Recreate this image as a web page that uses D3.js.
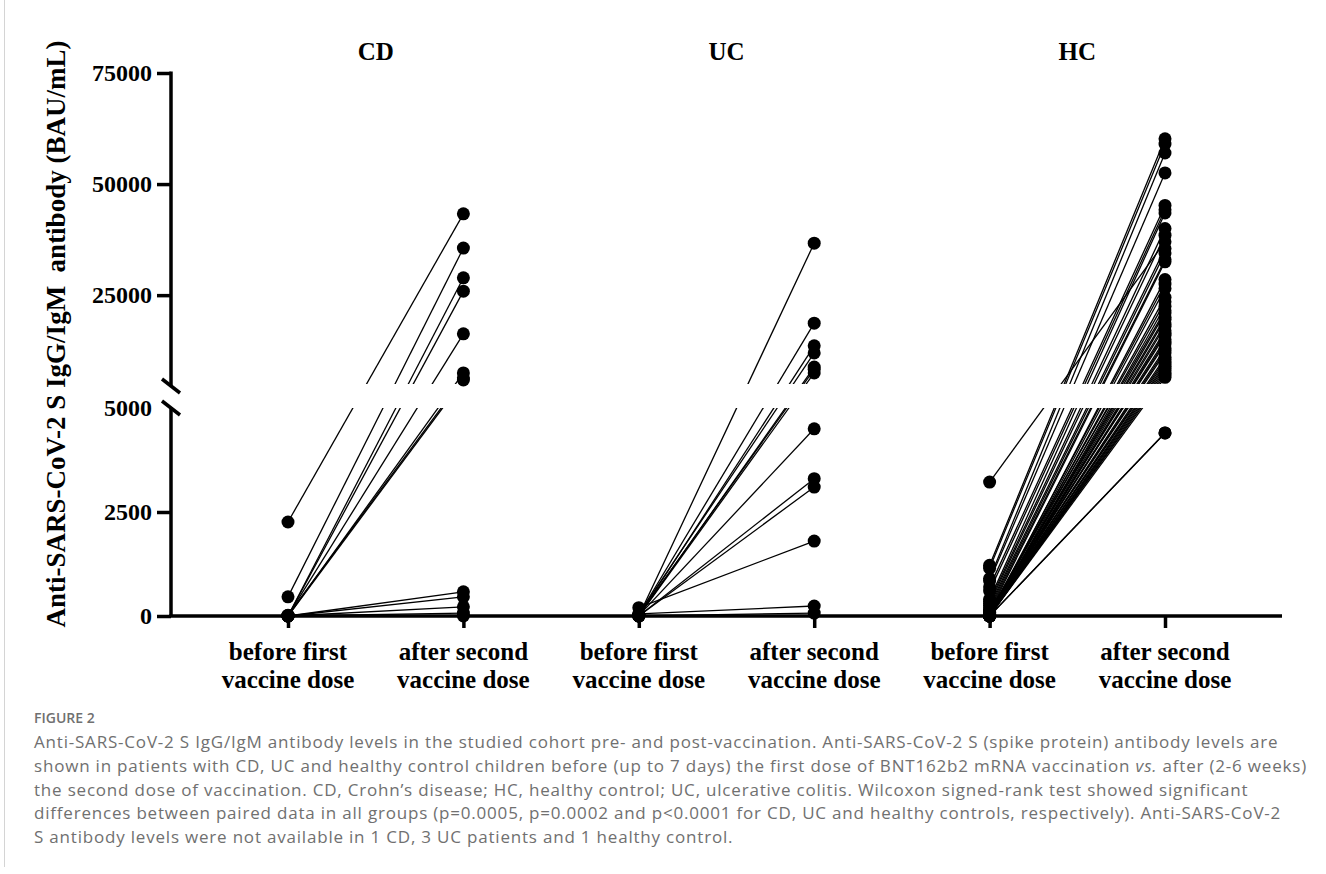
<!DOCTYPE html>
<html>
<head>
<meta charset="utf-8">
<script src="https://cdn.jsdelivr.net/npm/d3@7/dist/d3.min.js"></script>
<style>
  body { margin: 0; background: #fff; }
  .serif { font-family: "Liberation Serif", "Times New Roman", serif; font-weight: bold; }
  .caption { font-family: "Open Sans", "Noto Sans", sans-serif; fill: #707070; }
</style>
</head>
<body>
<div class="canvas"></div>
<script>
// groups and time points
const groupNames = ['CD', 'UC', 'HC'];
const timeLabels = [['before first', 'vaccine dose'], ['after second', 'vaccine dose']];

// paired values (BAU/mL), one entry per child
const cdBefore = [2260, 460, 0, 0, 10, 0, 20, 0, 0, 0, 0, 0, 0];
const cdAfter  = [43300, 35600, 28900, 25900, 16300, 7500, 6400, 5900, 580, 460, 220, 70, 0];

const ucBefore = [0, 30, 0, 50, 0, 20, 0, 10, 0, 0, 200, 50, 0];
const ucAfter  = [36700, 18700, 13600, 12000, 8800, 8300, 7500, 4500, 3300, 3100, 1800, 240, 70];

const hcBefore = [3220, 1220, 1150, 900, 850, 700, 600, 400, 350, 300, 250, 200, 150, 100,
  0, 50, 0, 20, 80, 0, 120, 0, 30, 0, 60, 0, 10, 0, 40, 0, 0, 90, 0, 0, 20, 0, 0, 50, 0, 0, 10, 0, 0, 30, 0, 0, 0];
const hcAfter  = [37000, 60200, 59000, 57000, 52500, 45200, 44200, 43500, 40000, 38500, 35500, 34500, 33000, 32500,
  28500, 27500, 26500, 24500, 23500, 22500, 21500, 21000, 20000, 19500, 18500, 18000, 17000, 16500, 16000, 15000,
  14500, 14000, 13000, 12500, 12000, 11000, 10500, 10000, 9500, 9000, 8500, 8000, 7500, 7000, 6500, 4400, 4400];

// axis ticks
const lowTicks = [0, 2500, 5000];
const highTicks = [25000, 50000, 75000];

const captionTitle = 'FIGURE 2';
const captionLines = [
  'Anti-SARS-CoV-2 S IgG/IgM antibody levels in the studied cohort pre- and post-vaccination. Anti-SARS-CoV-2 S (spike protein) antibody levels are',
  'shown in patients with CD, UC and healthy control children before (up to 7 days) the first dose of BNT162b2 mRNA vaccination vs. after (2-6 weeks)',
  'the second dose of vaccination. CD, Crohn\u2019s disease; HC, healthy control; UC, ulcerative colitis. Wilcoxon signed-rank test showed significant',
  'differences between paired data in all groups (p=0.0005, p=0.0002 and p<0.0001 for CD, UC and healthy controls, respectively). Anti-SARS-CoV-2',
  'S antibody levels were not available in 1 CD, 3 UC patients and 1 healthy control.'
];

const groups = [
  { name: groupNames[0], before: cdBefore, after: cdAfter },
  { name: groupNames[1], before: ucBefore, after: ucAfter },
  { name: groupNames[2], before: hcBefore, after: hcAfter }
];

const dims = { width: 1326, height: 874 };
const svg = d3.select('.canvas').append('svg')
  .attr('width', dims.width)
  .attr('height', dims.height);

// thin frame line on the left
svg.append('line')
  .attr('x1', 4.5).attr('x2', 4.5)
  .attr('y1', 0).attr('y2', 867)
  .attr('stroke', '#d4d4d4');

const slots = [];
groups.forEach(g => slots.push(g.name + '-0', g.name + '-1'));

const x = d3.scalePoint()
  .domain(slots)
  .range([171, 1282])
  .padding(0.667);

// broken y axis: two linear pieces
const yLow = d3.scaleLinear().domain([0, 5000]).range([616, 408]);
const yHigh = d3.scaleLinear().domain([5000, 75000]).range([384, 73]);
const y = v => v <= 5000 ? yLow(v) : yHigh(v);

// clip lines out of the gap
const clip = svg.append('clipPath').attr('id', 'gapclip');
clip.append('rect').attr('x', 0).attr('y', 0).attr('width', dims.width).attr('height', yHigh(5000));
clip.append('rect').attr('x', 0).attr('y', yLow(5000)).attr('width', dims.width).attr('height', 300);

const graph = svg.append('g');

// paired lines
groups.forEach(g => {
  const pairs = g.before.map((b, i) => ({ b: b, a: g.after[i] }));
  graph.append('g')
    .attr('clip-path', 'url(#gapclip)')
    .selectAll('line')
    .data(pairs)
    .enter().append('line')
      .attr('x1', x(g.name + '-0'))
      .attr('y1', d => y(d.b))
      .attr('x2', x(g.name + '-1'))
      .attr('y2', d => y(d.a))
      .attr('stroke', '#000')
      .attr('stroke-width', 1.3);
});

// points
groups.forEach(g => {
  [g.before, g.after].forEach((vals, k) => {
    graph.append('g').selectAll('circle')
      .data(vals)
      .enter().append('circle')
        .attr('cx', x(g.name + '-' + k))
        .attr('cy', d => y(d))
        .attr('r', 6.5)
        .attr('fill', '#000');
  });
});

// y axes
const styleAxis = sel => {
  sel.selectAll('path, line').attr('stroke', '#000').attr('stroke-width', 3.5);
  sel.selectAll('text')
    .attr('class', 'serif')
    .attr('font-size', 24)
    .attr('fill', '#000');
};

const axisHigh = d3.axisLeft(yHigh)
  .tickValues(highTicks)
  .tickSize(14).tickSizeOuter(0).tickPadding(5)
  .tickFormat(d3.format('d'));
svg.append('g')
  .attr('transform', 'translate(171,0)')
  .call(axisHigh)
  .call(styleAxis)
  .call(g => g.select('.domain').attr('d', `M0,${yHigh(5000) + 2}V${yHigh(75000) - 1.5}`));

const axisLow = d3.axisLeft(yLow)
  .tickValues(lowTicks)
  .tickSize(14).tickSizeOuter(0).tickPadding(5)
  .tickFormat(d3.format('d'));
svg.append('g')
  .attr('transform', 'translate(171,0)')
  .call(axisLow)
  .call(styleAxis)
  .call(g => g.select('.domain').attr('d', `M0,${yLow(0)}V${yLow(5000) - 1}`))
  .call(g => g.selectAll('.tick').filter(d => d === 5000).select('line').remove());

// break marks
[yHigh(5000) + 2, yLow(5000)].forEach(yy => {
  svg.append('line')
    .attr('x1', 162).attr('y1', yy - 7)
    .attr('x2', 180).attr('y2', yy + 7)
    .attr('stroke', '#000')
    .attr('stroke-width', 3.5);
});

// x axis
const xAxis = d3.axisBottom(x)
  .tickSize(12).tickSizeOuter(0)
  .tickFormat('');
svg.append('g')
  .attr('transform', `translate(0,${yLow(0)})`)
  .call(xAxis)
  .call(g => g.selectAll('path, line').attr('stroke', '#000').attr('stroke-width', 3.5))
  .call(g => g.select('.domain').attr('d', 'M169.25,0H1282'));

// x tick labels, two lines each
slots.forEach((s, i) => {
  const t = svg.append('text')
    .attr('class', 'serif')
    .attr('font-size', 25)
    .attr('text-anchor', 'middle');
  timeLabels[i % 2].forEach((line, j) => {
    t.append('tspan')
      .attr('x', x(s))
      .attr('y', 660 + j * 28)
      .text(line);
  });
});

// group titles
groups.forEach(g => {
  svg.append('text')
    .attr('class', 'serif')
    .attr('font-size', 25)
    .attr('text-anchor', 'middle')
    .attr('x', (x(g.name + '-0') + x(g.name + '-1')) / 2)
    .attr('y', 60)
    .text(g.name);
});

// y axis title
svg.append('text')
  .attr('class', 'serif')
  .attr('font-size', 27)
  .attr('text-anchor', 'middle')
  .attr('transform', 'translate(65,334) rotate(-90)')
  .text('Anti-SARS-CoV-2 S IgG/IgM\u00a0 antibody (BAU/mL)');

// caption
svg.append('text')
  .attr('class', 'caption')
  .attr('x', 34).attr('y', 723)
  .attr('font-size', 14)
  .attr('font-weight', 600)
  .attr('fill', '#808080')
  .text(captionTitle);

const cap = svg.append('text')
  .attr('class', 'caption')
  .attr('font-size', 17)
  .attr('letter-spacing', 0.8);
captionLines.forEach((line, i) => {
  const ts = cap.append('tspan')
    .attr('x', 34)
    .attr('y', 748 + i * 23.8);
  if (line.includes(' vs. ')) {
    const parts = line.split(' vs. ');
    ts.append('tspan').text(parts[0] + ' ');
    ts.append('tspan').attr('font-style', 'italic').text('vs.');
    ts.append('tspan').text(' ' + parts[1]);
  } else {
    ts.text(line);
  }
});
</script>
</body>
</html>
